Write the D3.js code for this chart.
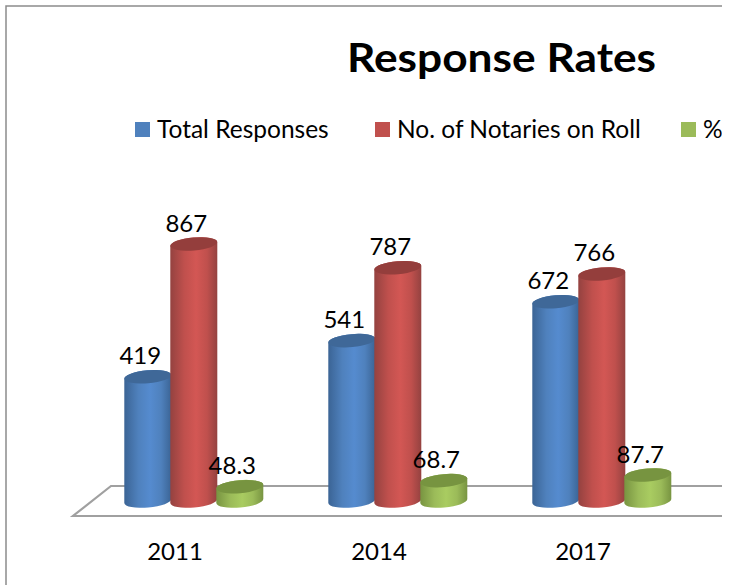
<!DOCTYPE html>
<html>
<head>
<meta charset="utf-8">
<script src="https://cdn.jsdelivr.net/npm/d3@7"></script>
<style>
html, body { margin: 0; padding: 0; background: #fff; }
text { font-family: Lato, "Open Sans", sans-serif; fill: #000; }
</style>
</head>
<body>
<div id="chart"></div>
<script>
"use strict";

var years = ["2011", "2014", "2017"];
var seriesNames = ["Total Responses", "No. of Notaries on Roll", "%"];
var totalResponses = [419, 541, 672];
var notariesOnRoll = [867, 787, 766];
var percentages = [48.3, 68.7, 87.7];
var seriesValues = [totalResponses, notariesOnRoll, percentages];
var seriesColors = ["#4f81bd", "#c0504d", "#9bbb59"];
var lightColors = ["#558bcf", "#d35754", "#a9cc61"];
var darkColors = ["#3b6495", "#944240", "#789441"];
var topColors = ["#3f6898", "#943e3c", "#779440"];

var width = 730, height = 585;
var svg = d3.select("#chart").append("svg")
    .attr("width", width)
    .attr("height", height)
    .style("display", "block");

var defs = svg.append("defs");
defs.append("clipPath").attr("id", "page")
    .append("rect").attr("width", 722).attr("height", height);

seriesNames.forEach(function(name, i) {
    var grad = defs.append("linearGradient").attr("id", "side" + i);
    grad.append("stop").attr("offset", "0%").attr("stop-color", darkColors[i]);
    grad.append("stop").attr("offset", "30%").attr("stop-color", seriesColors[i]);
    grad.append("stop").attr("offset", "55%").attr("stop-color", lightColors[i]);
    grad.append("stop").attr("offset", "78%").attr("stop-color", seriesColors[i]);
    grad.append("stop").attr("offset", "100%").attr("stop-color", darkColors[i]);
});

var g = svg.append("g").attr("clip-path", "url(#page)");

// frame, only top and left show, the rest is cut off
g.append("path")
    .attr("d", "M6,585V6H730")
    .attr("fill", "none")
    .attr("stroke", "#8c8c8c")
    .attr("stroke-width", 1.5);

g.append("text")
    .attr("x", 347).attr("y", 72)
    .attr("font-size", 40).attr("font-weight", 700)
    .attr("textLength", 309)
    .attr("lengthAdjust", "spacingAndGlyphs")
    .text("Response Rates");

var legendX = [135, 375, 681];
var legend = g.selectAll(".legend")
    .data(seriesNames)
    .enter().append("g")
    .attr("class", "legend")
    .attr("transform", function(d, i) { return "translate(" + legendX[i] + ",122)"; });
legend.append("rect")
    .attr("width", 15).attr("height", 15)
    .attr("fill", function(d, i) { return seriesColors[i]; });
legend.append("text")
    .attr("x", 22).attr("y", 16)
    .attr("font-size", 24.5)
    .text(function(d) { return d; });

var x = d3.scaleBand().domain(years).range([92, 704]);
var s = d3.scaleBand().domain(d3.range(3)).range([0, 138]);
var y = d3.scaleLinear().domain([0, 867]).range([501, 244]);

// floor of the 3d plot
g.append("path")
    .attr("d", "M722,486H111L73,516H722")
    .attr("fill", "none")
    .attr("stroke", "#a0a0a0")
    .attr("stroke-width", 2.2);

var rot = -5, rx = 23.5, ry = 6.5;
var tilt = rx * Math.sin(-rot * Math.PI / 180);

function barLeft(yi, si) {
    return x(yi) + (x.bandwidth() - s.bandwidth() * 3) / 2 + s(si) - 0.7;
}

function cylinder(x0, yTop) {
    var w = rx * 2, b = y(0);
    return "M" + x0 + "," + (yTop + tilt) +
        "L" + x0 + "," + (b + tilt) +
        "A" + rx + "," + ry + " " + rot + " 0 0 " + (x0 + w) + "," + (b - tilt) +
        "L" + (x0 + w) + "," + (yTop - tilt) +
        "A" + rx + "," + ry + " " + rot + " 0 0 " + x0 + "," + (yTop + tilt) + "Z";
}

var bars = [];
seriesValues.forEach(function(vals, si) {
    vals.forEach(function(v, yi) {
        bars.push({ year: years[yi], s: si, value: v });
    });
});

var bar = g.selectAll(".bar")
    .data(bars)
    .enter().append("g")
    .attr("class", "bar");

bar.append("path")
    .attr("d", function(d) { return cylinder(barLeft(d.year, d.s), y(d.value)); })
    .attr("fill", function(d) { return "url(#side" + d.s + ")"; });

bar.append("ellipse")
    .attr("rx", rx).attr("ry", ry)
    .attr("transform", function(d) {
        return "translate(" + (barLeft(d.year, d.s) + rx) + "," + y(d.value) + ") rotate(" + rot + ")";
    })
    .attr("fill", function(d) { return topColors[d.s]; });

g.selectAll(".value")
    .data(bars)
    .enter().append("text")
    .attr("class", "value")
    .attr("text-anchor", "middle")
    .attr("font-size", 24)
    .attr("x", function(d) { return barLeft(d.year, d.s) + rx - 7.5; })
    .attr("y", function(d) { return y(d.value) - 12.5; })
    .text(function(d) { return d.value; });

g.selectAll(".year")
    .data(years)
    .enter().append("text")
    .attr("class", "year")
    .attr("text-anchor", "middle")
    .attr("font-size", 24)
    .attr("x", function(d) { return x(d) + x.bandwidth() / 2 - 19; })
    .attr("y", 560)
    .text(function(d) { return d; });
</script>
</body>
</html>
